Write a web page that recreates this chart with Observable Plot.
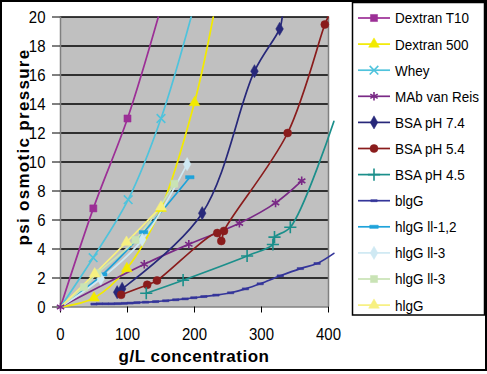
<!DOCTYPE html>
<html>
<head>
<meta charset="utf-8">
<script src="https://cdn.jsdelivr.net/npm/d3@7"></script>
<script src="https://cdn.jsdelivr.net/npm/@observablehq/plot@0.6"></script>
<style>
  html, body { margin: 0; padding: 0; background: #fff; }
  #chart { width: 487px; height: 374px; }
</style>
</head>
<body>
<div id="chart"></div>
<script>
// ---- data ----
const seriesNames = ["Dextran T10", "Dextran 500", "Whey", "MAb van Reis", "BSA pH 7.4", "BSA pH 5.4",
  "BSA pH 4.5", "blgG", "hlgG ll-1,2", "hlgG ll-3", "hlgG ll-3", "hlgG"];

const dextranT10X = [0, 49, 100, 146];
const dextranT10Y = [0, 6.8, 13.0, 20];
const dextran500X = [0, 50, 99, 150, 200, 228];
const dextran500Y = [0, 0.62, 2.65, 6.8, 14.1, 20];
const wheyX = [0, 48.7, 101, 150, 195];
const wheyY = [0, 3.4, 7.4, 13.0, 20];
const mabX = [0, 125, 191.5, 267, 321, 360];
const mabY = [0, 2.95, 4.33, 5.77, 7.18, 8.7];
const bsa74X = [84.6, 92, 211.5, 289.5, 327, 331];
const bsa74Y = [1.02, 1.25, 6.47, 16.26, 19.18, 20];
const bsa54X = [90.5, 129.4, 144, 234, 240, 244, 339, 394.5, 399.5];
const bsa54Y = [0.84, 1.53, 1.83, 5.1, 4.55, 5.25, 12.0, 19.48, 20];
const bsa45X = [128, 183, 278.5, 317, 319.4, 343, 408];
const bsa45Y = [0.95, 1.85, 3.52, 4.31, 4.82, 5.5, 12.8];
const bigGX = [50, 58, 67, 76, 85, 95, 104, 114, 127, 142, 157, 172, 186, 199, 214, 232, 254, 276, 298, 328, 358, 383, 408];
const bigGY = [0.2, 0.22, 0.22, 0.22, 0.23, 0.25, 0.27, 0.3, 0.33, 0.37, 0.43, 0.5, 0.56, 0.64, 0.72, 0.82, 0.98, 1.25, 1.6, 2.15, 2.65, 3.0, 3.7];
const higg12X = [0, 63, 124, 193];
const higg12Y = [0, 2.25, 5.16, 8.95];
const higg3aX = [0, 60, 122, 189];
const higg3aY = [0, 1.95, 4.63, 9.85];
const higg3bX = [0, 35, 55, 112, 170];
const higg3bY = [0, 1.37, 2.33, 4.63, 8.5];
const higgX = [0, 51, 98.5, 150];
const higgY = [0, 2.29, 4.47, 6.9];

const xTicks = [0, 100, 200, 300, 400];
const yTicks = [0, 2, 4, 6, 8, 10, 12, 14, 16, 18, 20];

const seriesXs = [dextranT10X, dextran500X, wheyX, mabX, bsa74X, bsa54X, bsa45X, bigGX, higg12X, higg3aX, higg3bX, higgX];
const seriesYs = [dextranT10Y, dextran500Y, wheyY, mabY, bsa74Y, bsa54Y, bsa45Y, bigGY, higg12Y, higg3aY, higg3bY, higgY];

// ---- styles ----
const smallDash = {draw(ctx, size) { const w = Math.sqrt(size) * 0.9; ctx.rect(-w / 2, -1, w, 2); }};
const thickDash = {draw(ctx, size) { const w = Math.sqrt(size) * 1.2; ctx.rect(-w / 2, -1.6, w, 3.2); }};
const styles = [
  {color: "#9c2f96", symbol: "square", filled: true},
  {color: "#f2ea00", symbol: "triangle", filled: true},
  {color: "#4fc3dc", symbol: "times", filled: false},
  {color: "#7a2a86", symbol: "asterisk", filled: false, originMarker: true},
  {color: "#27287a", symbol: "diamond", filled: true},
  {color: "#8a1c1c", symbol: "circle", filled: true},
  {color: "#1b8f8b", symbol: "plus", filled: false},
  {color: "#34359a", symbol: smallDash, filled: true},
  {color: "#1fa3da", symbol: thickDash, filled: true},
  {color: "#cfe9f3", symbol: "diamond", filled: true},
  {color: "#c9e3b5", symbol: "square", filled: true},
  {color: "#f7f080", symbol: "triangle", filled: true}
];

const W = 487, H = 374;
const tickFont = "'Liberation Sans', Arial, sans-serif";

const series = seriesNames.map((name, i) => ({
  name, style: styles[i],
  data: seriesXs[i].map((x, j) => ({x, y: seriesYs[i][j]}))
}));

const marks = [
  Plot.frame({fill: "#c0c0c0", stroke: null}),
  Plot.ruleY(yTicks.filter(d => d > 0), {stroke: "#000", strokeWidth: 1.6}),
  Plot.ruleX([400], {stroke: "#808080", strokeWidth: 1.5}),
  Plot.ruleY([0], {stroke: "#808080", strokeWidth: 1.5}),
  Plot.ruleX([0], {stroke: "#808080", strokeWidth: 1.5}),
  Plot.axisY({ticks: yTicks, tickSize: 8, tickPadding: 7, label: null, fontSize: 15, stroke: "#000"}),
  Plot.axisX({ticks: xTicks, tickSize: 6, tickPadding: 15, label: null, fontSize: 15, stroke: "#000"})
];
for (const s of series) {
  marks.push(Plot.line(s.data, {x: "x", y: "y", stroke: s.style.color, strokeWidth: 1.7, curve: "catmull-rom"}));
}
for (const s of series) {
  marks.push(Plot.dot(s.data.filter(d => d.y < 19.9 && d.x <= 400 && (s.style.originMarker || !(d.x === 0 && d.y === 0))), {
    x: "x", y: "y", symbol: () => s.style.symbol, r: 4,
    fill: s.style.filled ? s.style.color : "none",
    stroke: s.style.color, strokeWidth: s.style.filled ? 0.5 : 1.6
  }));
}

const plot = Plot.plot({
  width: W, height: H,
  marginLeft: 60, marginRight: 159, marginTop: 16.5, marginBottom: 67.5,
  x: {domain: [0, 400]},
  y: {domain: [0, 20]},
  style: {fontFamily: tickFont, fontSize: "15px", color: "#000", background: "#fff", overflow: "visible"},
  marks
});

const svg = d3.select(plot);
// slightly taller tick glyphs, as in the reference
svg.selectAll("g[aria-label='x-axis tick label'] text, g[aria-label='y-axis tick label'] text")
  .each(function() {
    const tr = this.getAttribute("transform") || "";
    this.setAttribute("transform", tr + " scale(1,1.15)");
  });

// axis titles
svg.append("text").attr("x", 194).attr("y", 362).attr("text-anchor", "middle")
  .attr("font-family", "'Liberation Sans', Arial, sans-serif").attr("font-weight", "bold")
  .attr("font-size", 17).attr("letter-spacing", 0.5).attr("fill", "#000").text("g/L concentration");
svg.append("text").attr("transform", "translate(29,147) rotate(-90)").attr("text-anchor", "middle")
  .attr("font-family", "'Liberation Sans', Arial, sans-serif").attr("font-weight", "bold")
  .attr("font-size", 17).attr("letter-spacing", 1.3).attr("fill", "#000").text("psi osmotic pressure");

// legend
const symbolMap = {square: d3.symbolSquare, triangle: d3.symbolTriangle, times: d3.symbolTimes,
  asterisk: d3.symbolAsterisk, diamond: d3.symbolDiamond, circle: d3.symbolCircle, plus: d3.symbolPlus};
const lg = svg.append("g");
lg.append("rect").attr("x", 352.5).attr("y", 2.5).attr("width", 132).attr("height", 312.5)
  .attr("fill", "#fff").attr("stroke", "#000").attr("stroke-width", 1.5);
series.forEach((s, i) => {
  const cy = 18 + i * 26.1;
  const g = lg.append("g");
  g.append("line").attr("x1", 358).attr("x2", 390).attr("y1", cy).attr("y2", cy)
    .attr("stroke", s.style.color).attr("stroke-width", 1.7);
  const t = typeof s.style.symbol === "string" ? symbolMap[s.style.symbol] : s.style.symbol;
  g.append("path").attr("transform", `translate(374,${cy})`)
    .attr("d", d3.symbol(t, Math.PI * 16)())
    .attr("fill", s.style.filled ? s.style.color : "none")
    .attr("stroke", s.style.color).attr("stroke-width", s.style.filled ? 0.5 : 1.6);
  g.append("text").attr("transform", `translate(395,${cy}) scale(1,1.12)`).attr("dy", "0.36em").attr("text-anchor", "start")
    .attr("font-family", tickFont).attr("font-size", 13.5).attr("fill", "#000").text(s.name);
});

// outer frame
svg.append("rect").attr("x", 1).attr("y", 1).attr("width", W - 2).attr("height", 369)
  .attr("fill", "none").attr("stroke", "#000").attr("stroke-width", 2);

document.getElementById("chart").appendChild(plot);
</script>
</body>
</html>
